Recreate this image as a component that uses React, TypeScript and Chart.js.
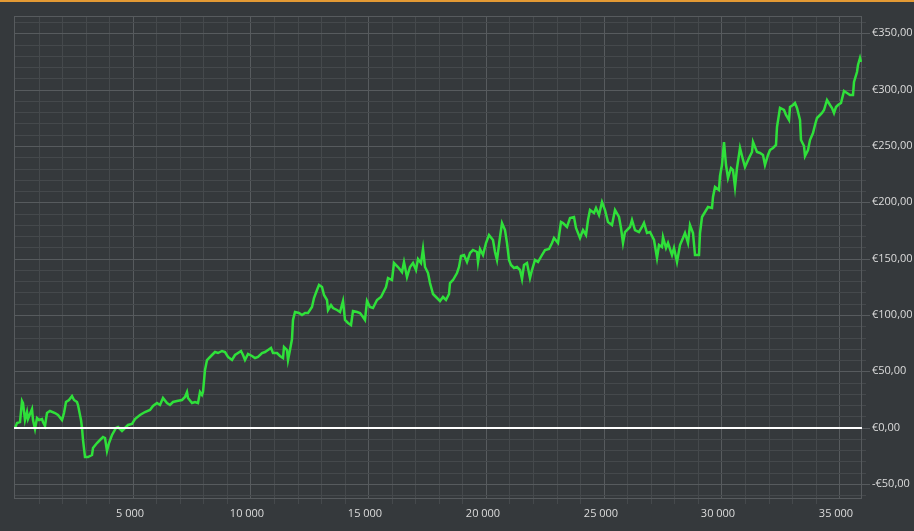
import React, { useEffect, useRef } from 'react';
import { Chart, registerables } from 'chart.js';

Chart.register(...registerables);

// Trade number (x) and cumulative profit in euro (y)
const trades = [
  0, 70, 210, 290, 350, 420, 500, 560, 710, 780,
  850, 920, 1030, 1130, 1200, 1270, 1350, 1490, 1700, 1840,
  1980, 2080, 2170, 2310, 2410, 2510, 2620, 2690, 2790, 2850,
  2900, 2970, 3110, 3260, 3330, 3500, 3610, 3730, 3820, 3920,
  4010, 4110, 4290, 4390, 4530, 4670, 4810, 4960, 5100, 5310,
  5520, 5740, 5880, 6020, 6160, 6300, 6440, 6580, 6730, 6870,
  7080, 7220, 7290, 7360, 7510, 7650, 7790, 7860, 7930, 8000,
  8070, 8170, 8360, 8500, 8640, 8780, 8920, 9060, 9210, 9350,
  9490, 9590, 9700, 9770, 9910, 10060, 10200, 10340, 10480, 10620,
  10760, 10860, 10950, 11120, 11260, 11370, 11430, 11540, 11610, 11680,
  11750, 11800, 11890, 12040, 12180, 12320, 12460, 12600, 12700, 12820,
  12930, 13030, 13130, 13240, 13310, 13410, 13520, 13670, 13810, 13920,
  14020, 14160, 14260, 14350, 14520, 14660, 14770, 14870, 14940, 15080,
  15220, 15370, 15540, 15650, 15760, 15860, 16000, 16100, 16280, 16430,
  16530, 16640, 16780, 16920, 17040, 17130, 17230, 17320, 17420, 17520,
  17630, 17770, 17910, 18050, 18190, 18310, 18410, 18480, 18620, 18760,
  18870, 18930, 19070, 19190, 19330, 19470, 19610, 19680, 19750, 19890,
  20010, 20150, 20290, 20390, 20490, 20600, 20700, 20820, 20890, 20960,
  21060, 21200, 21340, 21450, 21540, 21620, 21740, 21850, 21950, 22090,
  22230, 22380, 22510, 22660, 22800, 22870, 23080, 23180, 23290, 23440,
  23580, 23720, 23830, 24000, 24140, 24260, 24350, 24430, 24570, 24680,
  24820, 24920, 25060, 25200, 25350, 25490, 25630, 25730, 25820, 25910,
  26100, 26200, 26340, 26480, 26620, 26720, 26840, 26980, 27120, 27260,
  27330, 27470, 27540, 27650, 27750, 27900, 27990, 28110, 28220, 28360,
  28460, 28560, 28670, 28790, 28890, 29030, 29100, 29170, 29310, 29450,
  29600, 29660, 29740, 29880, 29950, 30020, 30120, 30200, 30300, 30400,
  30510, 30590, 30660, 30770, 30870, 31010, 31150, 31300, 31360, 31510,
  31650, 31760, 31860, 31960, 32070, 32210, 32330, 32380, 32500, 32640,
  32750, 32850, 32920, 33060, 33130, 33230, 33320, 33380, 33490, 33560,
  33660, 33770, 33890, 33980, 34080, 34200, 34270, 34370, 34480, 34590,
  34690, 34790, 34880, 34970, 35080, 35190, 35330, 35470, 35590, 35640,
  35760, 35820, 35870, 35940,
];

const profit = [
  0, 4, 5, 24, 22, 7, 14, 8, 17, 7,
  -1, 9, 7, 8, 5, 1.5, 13, 15, 13, 11,
  7, 13, 23, 25, 28, 25, 23, 20, 7, 0,
  -11, -26, -26, -24, -18, -14, -11, -8, -9.5, -21,
  -14, -6.5, -0.5, 1, -2.7, -0.5, 2.4, 3.3, 7.5, 11,
  14, 16, 19, 22, 20, 26, 22, 20, 23, 24,
  25, 27.5, 32, 26, 22, 23, 22, 32, 29, 32,
  51, 60, 64.5, 67.5, 66, 68, 67.5, 62.5, 60, 64.5,
  66, 68, 64.5, 60, 65.5, 63.7, 61.6, 62.5, 66, 67.5,
  69, 70.5, 66.6, 66, 63.7, 61.6, 72, 69, 60, 69,
  79, 95.6, 103, 101.6, 100, 101.6, 102, 107.5, 115, 122,
  126.7, 125, 118, 113, 104.5, 109, 106, 104.5, 103, 112,
  95.6, 92.7, 91, 104, 103, 101.6, 98, 95.6, 112, 107.5,
  106, 113.4, 116, 121, 125, 132.7, 131, 146, 143, 138.5,
  147.4, 134, 143, 146, 140, 150, 146, 159, 143, 137,
  128, 119, 115, 112, 116, 113.4, 119, 128, 131, 137,
  143, 152, 153, 147.4, 155, 158, 156, 147.4, 159, 153,
  164, 171, 167, 156, 149, 169.6, 181.5, 175.6, 163.8, 149,
  144.5, 141.6, 143, 140, 131.8, 144.5, 146, 132.7, 140, 149,
  147.4, 153, 158, 159, 163.8, 168, 163.8, 183, 181.5, 178.5,
  186, 187.4, 177, 168, 175.6, 171, 184.5, 193.3, 190.4, 194.8,
  189, 200.7, 193.3, 183, 180, 193.3, 187.4, 177, 163.8, 174,
  178.5, 184.5, 175.6, 174, 178.5, 181.5, 172.6, 174, 166.7, 150.4,
  162.3, 160.7, 169.6, 159.3, 163.8, 153.4, 159.3, 147.4, 162.3, 168,
  172.6, 163.8, 180, 172.6, 153.4, 153.4, 172.6, 187.4, 191.8, 196.3,
  194.8, 205, 214, 211, 223, 233.3, 254, 233.3, 221.5, 230.4,
  229, 214, 230.4, 248, 240.7, 231.8, 239.2, 245, 254, 245,
  243.7, 242.2, 233.3, 242.2, 246.6, 248, 251, 267.3, 283.7, 282,
  277.7, 273.3, 285, 286.6, 288, 283.7, 273.3, 255.5, 249.6, 240.7,
  246.6, 255.5, 261.5, 268.8, 274.8, 277.7, 279.2, 282, 291, 286.6,
  283.7, 279.2, 285, 286.6, 288, 298.4, 297, 295.5, 295, 307,
  316, 322, 328, 325,
];

// Axis ranges and tick values
const xMin = -42;
const xMax = 35970;
const yMin = -63.3;
const yMax = 365.4;
const xMajorStep = 5000;
const xMinorStep = 1000;
const xTickFirst = 1000;
const xTickLast = 35000;
const yMajorStep = 50;
const yMinorStep = 10;
const yTickFirst = -60;
const yTickLast = 360;

const BG = '#35393c';
const MAJOR = '#575b5e';
const MINOR = '#45494c';
const TEXT = '#dcdcdc';
const LINE = '#2fe03a';
const FONT = "'Open Sans', sans-serif";

const fmtEuro = (v: number) => {
  const s = '€' + Math.abs(v).toFixed(2).replace('.', ',');
  return v < 0 ? '-' + s : s;
};
const fmtTrades = (v: number) => (v === 0 ? '0' : String(v / 1000) + ' 000');

export default function App() {
  const ref = useRef<HTMLCanvasElement | null>(null);

  useEffect(() => {
    if (!ref.current) return;
    const xTicks: number[] = [];
    for (let v = xTickFirst; v <= xTickLast; v += xMinorStep) xTicks.push(v);
    const yTicks: number[] = [];
    for (let v = yTickFirst; v <= yTickLast; v += yMinorStep) yTicks.push(v);

    const framePlugin = {
      id: 'frame',
      beforeDatasetsDraw(chart: any) {
        const { ctx, chartArea } = chart;
        const ys = chart.scales.y;
        ctx.save();
        ctx.strokeStyle = MAJOR;
        ctx.lineWidth = 1;
        ctx.strokeRect(
          Math.round(chartArea.left) + 0.5,
          Math.round(chartArea.top) + 0.5,
          Math.round(chartArea.right - chartArea.left) - 1,
          Math.round(chartArea.bottom - chartArea.top) - 1
        );
        // longer tick marks for labelled y values
        ctx.beginPath();
        for (const v of yTicks) {
          if (v % yMajorStep !== 0) continue;
          const py = Math.round(ys.getPixelForValue(v)) + 0.5;
          ctx.moveTo(chartArea.right, py);
          ctx.lineTo(chartArea.right + 8, py);
        }
        ctx.stroke();
        ctx.restore();
      },
    };

    const chart = new Chart(ref.current, {
      type: 'line',
      data: {
        datasets: [
          {
            label: 'zero',
            data: [
              { x: xMin, y: 0 },
              { x: xMax, y: 0 },
            ],
            borderColor: '#ffffff',
            borderWidth: 2,
            pointRadius: 0,
            order: 0,
          },
          {
            label: 'profit',
            data: trades.map((t, i) => ({ x: t, y: profit[i] })),
            borderColor: LINE,
            borderWidth: 2.5,
            pointRadius: 0,
            tension: 0,
            order: 1,
          },
        ],
      },
      options: {
        animation: false,
        responsive: false,
        devicePixelRatio: 1,
        layout: { padding: { left: 14, top: 16, right: 0, bottom: 0 } },
        plugins: { legend: { display: false }, tooltip: { enabled: false } },
        events: [],
        scales: {
          x: {
            type: 'linear',
            min: xMin,
            max: xMax,
            alignToPixels: true,
            afterBuildTicks: (s: any) => {
              s.ticks = xTicks.map((v) => ({ value: v }));
            },
            afterFit: (s: any) => {
              s.height = 32;
            },
            border: { display: false },
            grid: {
              color: (c: any) => (c.tick && c.tick.value % xMajorStep === 0 ? MAJOR : MINOR),
              tickColor: (c: any) => (c.tick && c.tick.value % xMajorStep === 0 ? 'rgba(0,0,0,0)' : MINOR),
              tickLength: 5,
              lineWidth: 1,
            },
            ticks: {
              autoSkip: false,
              maxRotation: 0,
              color: TEXT,
              padding: 3,
              labelOffset: -3,
              font: { family: FONT, size: 11 },
              callback: (v: any) => (Number(v) % xMajorStep === 0 ? fmtTrades(Number(v)) : ''),
            },
          },
          y: {
            type: 'linear',
            position: 'right',
            min: yMin,
            max: yMax,
            alignToPixels: true,
            afterBuildTicks: (s: any) => {
              s.ticks = yTicks.map((v) => ({ value: v }));
            },
            afterFit: (s: any) => {
              s.width = 52;
            },
            border: { display: false },
            grid: {
              color: (c: any) => (c.tick && c.tick.value % yMajorStep === 0 ? MAJOR : MINOR),
              tickColor: MINOR,
              tickLength: 4,
              lineWidth: 1,
            },
            ticks: {
              autoSkip: false,
              color: TEXT,
              padding: 6,
              font: { family: FONT, size: 11 },
              callback: (v: any) => (Number(v) % yMajorStep === 0 ? fmtEuro(Number(v)) : ''),
            },
          },
        },
      },
      plugins: [framePlugin],
    } as any);
    return () => chart.destroy();
  }, []);

  return (
    <div
      style={{
        position: 'fixed',
        left: 0,
        top: 0,
        width: 914,
        height: 531,
        background: BG,
        overflow: 'hidden',
      }}
    >
      <canvas ref={ref} width={914} height={531} style={{ display: 'block' }} />
      <div
        style={{
          position: 'absolute',
          left: 0,
          top: 0,
          width: 914,
          height: 2,
          background: '#e39a34',
        }}
      />
    </div>
  );
}
